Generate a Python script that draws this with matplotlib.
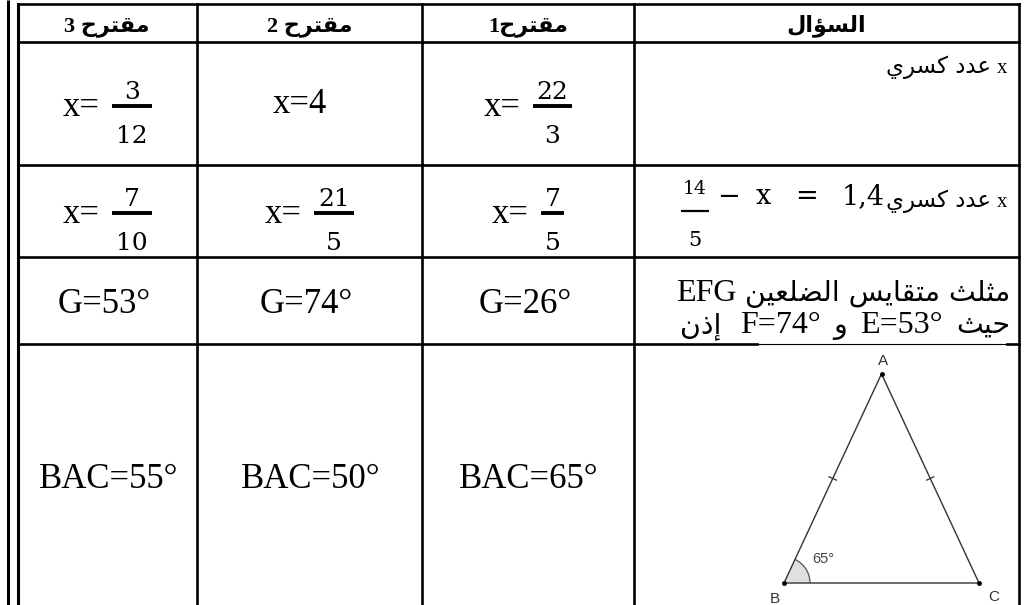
import matplotlib
matplotlib.use('Agg')
import matplotlib.pyplot as plt
from matplotlib.patches import Wedge, Arc
import numpy as np

# ---- table content (columns left -> right)
header_labels = ['مقترح 3', 'مقترح 2', 'مقترح1', 'السؤال']
q1_answers = [('3', '12'), '4', ('22', '3')]
q2_answers = [('7', '10'), ('21', '5'), ('7', '5')]
q3_answers = [53, 74, 26]
q4_answers = [55, 50, 65]

q1_text = 'عدد كسري'
q2_lhs = ('14', '5')
q2_rhs = '1,4'
q3_line1 = 'مثلث متقايس الضلعين'
q3_name = 'EFG'
q3_where, q3_and, q3_then = 'حيث', 'و', 'إذن'
q3_given = [('E', 53), ('F', 74)]
q4_base_angle = 65
q4_vertices = ['A', 'B', 'C']

# ---- layout (pixels)
W, H = 1026, 605
COL_X = [17.5, 197, 422, 634, 1019]
ROW_Y = [3.5, 42, 165, 257, 344]
OUTER_X = 8
LW = 1.9

SERIF = ['Liberation Serif', 'DejaVu Sans']
MATH = ['DejaVu Serif']
ARAB = ['DejaVu Sans']
ANS_FS = 25
FRAC_FS = 18

# Arabic contextual forms: isolated, final, initial, medial
FORMS = {
    'ا': (0xFE8D, 0xFE8E, None, None), 'إ': (0xFE87, 0xFE88, None, None),
    'ؤ': (0xFE85, 0xFE86, None, None), 'د': (0xFEA9, 0xFEAA, None, None),
    'ذ': (0xFEAB, 0xFEAC, None, None), 'ر': (0xFEAD, 0xFEAE, None, None),
    'و': (0xFEED, 0xFEEE, None, None),
    'ت': (0xFE95, 0xFE96, 0xFE97, 0xFE98), 'ث': (0xFE99, 0xFE9A, 0xFE9B, 0xFE9C),
    'ح': (0xFEA1, 0xFEA2, 0xFEA3, 0xFEA4), 'س': (0xFEB1, 0xFEB2, 0xFEB3, 0xFEB4),
    'ض': (0xFEBD, 0xFEBE, 0xFEBF, 0xFEC0), 'ع': (0xFEC9, 0xFECA, 0xFECB, 0xFECC),
    'ق': (0xFED5, 0xFED6, 0xFED7, 0xFED8), 'ك': (0xFED9, 0xFEDA, 0xFEDB, 0xFEDC),
    'ل': (0xFEDD, 0xFEDE, 0xFEDF, 0xFEE0), 'م': (0xFEE1, 0xFEE2, 0xFEE3, 0xFEE4),
    'ن': (0xFEE5, 0xFEE6, 0xFEE7, 0xFEE8), 'ي': (0xFEF1, 0xFEF2, 0xFEF3, 0xFEF4),
}


def ar(s):
    # shape letters and return them in visual (left to right) order
    out = []
    for i, c in enumerate(s):
        if c not in FORMS:
            out.append(c)
            continue
        iso, fin, ini, med = FORMS[c]
        prev = s[i - 1] if i > 0 else ''
        nxt = s[i + 1] if i + 1 < len(s) else ''
        jp = prev in FORMS and FORMS[prev][2] is not None
        jn = nxt in FORMS and ini is not None
        code = med if (jp and jn) else fin if jp else ini if jn else iso
        out.append(chr(code))
    return ''.join(reversed(out))


fig = plt.figure(figsize=(W / 100, H / 100), dpi=100)
ax = fig.add_axes([0, 0, 1, 1])
ax.set_xlim(0, W)
ax.set_ylim(H, 0)
ax.axis('off')
renderer = fig.canvas.get_renderer()


def tw(t):
    return t.get_window_extent(renderer).width


def hline(x0, x1, y, lw=LW):
    ax.plot([x0, x1], [y, y], color='k', lw=lw, solid_capstyle='projecting')


# ---- grid
ax.plot([OUTER_X, OUTER_X], [0, H], color='k', lw=2.2, solid_capstyle='butt')
ax.plot([COL_X[0], COL_X[0]], [ROW_Y[0], H], color='k', lw=2.2, solid_capstyle='projecting')
for x in COL_X[1:]:
    ax.plot([x, x], [ROW_Y[0], H], color='k', lw=LW, solid_capstyle='projecting')
for y in ROW_Y[:4]:
    hline(COL_X[0], COL_X[-1], y)
hline(COL_X[0], 757, ROW_Y[4])
ax.plot([757, 1007], [ROW_Y[4], ROW_Y[4]], color='k', lw=0.8)
hline(1007, COL_X[-1], ROW_Y[4])

centers = [(COL_X[i] + COL_X[i + 1]) / 2 for i in range(4)]

# ---- header
for xc, lab in zip(centers, header_labels):
    ax.text(xc, 31, ar(lab), ha='center', va='baseline', fontsize=16,
            fontweight='bold', family=SERIF)


def frac_answer(xc, ybar, num, den):
    lab = ax.text(0, ybar + 10, 'x=', fontsize=ANS_FS, family=SERIF, ha='left', va='baseline')
    tn = ax.text(0, ybar - 7, num, fontsize=FRAC_FS, family=MATH, ha='center', va='baseline')
    td = ax.text(0, ybar + 37, den, fontsize=FRAC_FS, family=MATH, ha='center', va='baseline')
    wl = tw(lab)
    wb = max(tw(tn), tw(td)) + 8
    x0 = xc - (wl + 12 + wb) / 2
    lab.set_x(x0)
    bc = x0 + wl + 12 + wb / 2
    tn.set_x(bc)
    td.set_x(bc)
    ax.plot([bc - wb / 2, bc + wb / 2], [ybar, ybar], color='k', lw=2.8, solid_capstyle='butt')


# ---- row 1 and row 2 answers
for xc, a in zip(centers[:3], q1_answers):
    if isinstance(a, tuple):
        frac_answer(xc, 106, *a)
    else:
        ax.text(xc - 10, 113, 'x=' + a, fontsize=ANS_FS, family=SERIF, ha='center', va='baseline')
for xc, a in zip(centers[:3], q2_answers):
    frac_answer(xc, 213, *a)

# ---- row 3 and row 4 answers
for xc, v in zip(centers[:3], q3_answers):
    ax.text(xc - 3, 313, f'G={v}°', fontsize=ANS_FS, family=SERIF, ha='center', va='baseline')
for xc, v in zip(centers[:3], q4_answers):
    ax.text(xc + 1, 488, f'BAC={v}°', fontsize=ANS_FS, family=SERIF, ha='center', va='baseline')


def flow_rtl(x_right, pieces):
    # pieces: (text, y, fontsize, family, gap before next piece)
    x = x_right
    for s, y, fs, fam, gap in pieces:
        t = ax.text(x, y, s, ha='right', va='baseline', fontsize=fs, family=fam)
        x -= tw(t) + gap
    return x


# ---- question column
QX = 1007
flow_rtl(QX, [('x', 73, 15, SERIF, 6), (ar(q1_text), 73, 16.5, ARAB, 0)])

EQ_FS = 19.5
xl = flow_rtl(QX, [('x', 207, 15, SERIF, 6), (ar(q1_text), 207, 16.5, ARAB, 1),
                   (q2_rhs, 204, EQ_FS, MATH, 24), ('=', 204, EQ_FS, MATH, 24),
                   ('x', 204, EQ_FS, MATH, 15), ('−', 204, EQ_FS, MATH, 9)])
tn = ax.text(0, 194, q2_lhs[0], ha='center', va='baseline', fontsize=13.5, family=MATH)
td = ax.text(0, 246, q2_lhs[1], ha='center', va='baseline', fontsize=15, family=MATH)
wb = max(tw(tn), tw(td)) + 4
tn.set_x(xl - wb / 2)
td.set_x(xl - wb / 2)
ax.plot([xl - wb, xl], [211, 211], color='k', lw=1.6, solid_capstyle='butt')

flow_rtl(1010, [(ar(q3_line1), 301, 20.5, ARAB, 8), (q3_name, 301, 23, SERIF, 0)])
(e_lab, e_val), (f_lab, f_val) = q3_given
flow_rtl(1010, [(ar(q3_where), 333, 20.5, ARAB, 13), (f'{e_lab}={e_val}°', 333, 23, SERIF, 13),
                (ar(q3_and), 333, 20.5, ARAB, 13), (f'{f_lab}={f_val}°', 333, 23, SERIF, 18),
                (ar(q3_then), 333, 20.5, ARAB, 0)])

# ---- isosceles triangle ABC with base angle at B
Bx, Cx, base_y = 784, 979, 583
half = (Cx - Bx) / 2
Ax = Bx + half
Ay = base_y - half * np.tan(np.radians(q4_base_angle))
tri_col = '#333333'
ax.add_patch(Wedge((Bx, base_y), 26, -q4_base_angle, 0, facecolor='#e0e0e0', edgecolor='none'))
ax.add_patch(Arc((Bx, base_y), 52, 52, theta1=-q4_base_angle, theta2=0, color='#555555', lw=0.9))
ax.plot([Bx, Ax, Cx, Bx], [base_y, Ay, base_y, base_y], color=tri_col, lw=1.0)
ax.plot([Ax, Bx, Cx], [Ay, base_y, base_y], 'o', color='k', ms=2.5)
for sx, sy in [(Bx, base_y), (Cx, base_y)]:
    mx, my = (sx + Ax) / 2, (sy + Ay) / 2
    dx, dy = Ax - sx, Ay - sy
    n = np.hypot(dx, dy)
    px, py = -dy / n * 4, dx / n * 4
    ax.plot([mx - px, mx + px], [my - py, my + py], color=tri_col, lw=0.9)
ax.text(812, 563, f'{q4_base_angle}°', fontsize=10.5, family=['Liberation Sans'], color='#444444',
        ha='left', va='baseline')
for lab, (lx, ly) in zip(q4_vertices, [(Ax + 2, 365), (Bx - 9, 603), (Cx + 15, 601)]):
    ax.text(lx, ly, lab, fontsize=11, family=['Liberation Sans'], color='#333333',
            ha='center', va='baseline')

fig.savefig('out.png', dpi=100)
